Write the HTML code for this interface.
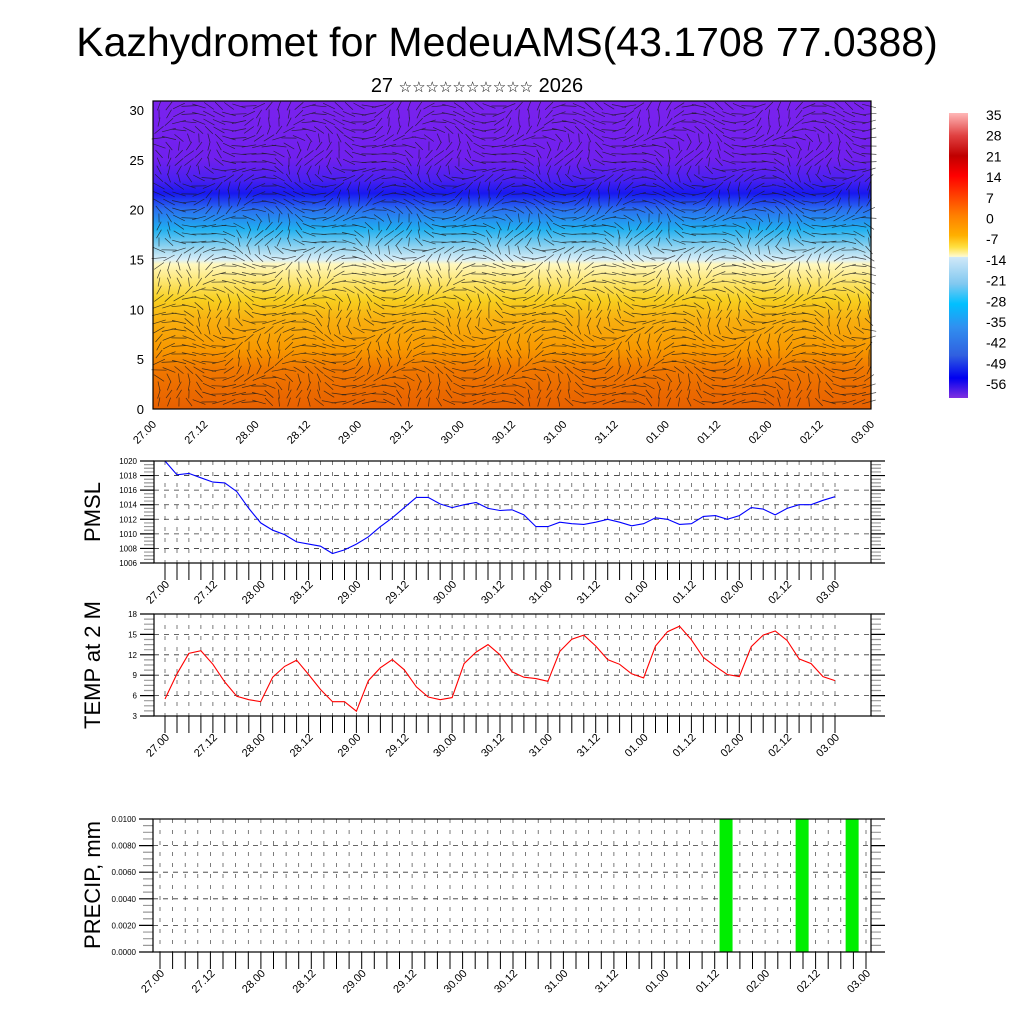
<!DOCTYPE html>
<html><head><meta charset="utf-8"><style>
html,body{margin:0;padding:0;background:#fff;}
svg{display:block;font-family:"Liberation Sans","DejaVu Sans",sans-serif;}
</style></head><body>
<svg id="s" width="1024" height="1024" viewBox="0 0 1024 1024" xmlns="http://www.w3.org/2000/svg">
<defs>
<linearGradient id="field" x1="0" y1="0" x2="0" y2="1">
<stop offset="0" stop-color="#7a22ee"/><stop offset="0.19" stop-color="#7020ee"/>
<stop offset="0.255" stop-color="#4a20f0"/><stop offset="0.30" stop-color="#1818f0"/>
<stop offset="0.353" stop-color="#2a70f0"/><stop offset="0.417" stop-color="#20b0f0"/>
<stop offset="0.482" stop-color="#a0d8f0"/><stop offset="0.515" stop-color="#d8eef8"/>
<stop offset="0.53" stop-color="#fff8c0"/><stop offset="0.58" stop-color="#fde878"/>
<stop offset="0.644" stop-color="#f8d020"/><stop offset="0.709" stop-color="#f8b010"/>
<stop offset="0.806" stop-color="#f89800"/><stop offset="0.87" stop-color="#f07800"/>
<stop offset="1" stop-color="#e86000"/>
</linearGradient>
<linearGradient id="cbar" x1="0" y1="0" x2="0" y2="1">
<stop offset="0" stop-color="#ffb8b8"/><stop offset="0.08" stop-color="#e04040"/>
<stop offset="0.15" stop-color="#c00000"/><stop offset="0.22" stop-color="#ff0000"/>
<stop offset="0.29" stop-color="#ff4000"/><stop offset="0.36" stop-color="#ff8000"/>
<stop offset="0.43" stop-color="#ffb000"/><stop offset="0.47" stop-color="#ffe040"/>
<stop offset="0.504" stop-color="#fffad0"/><stop offset="0.506" stop-color="#d0e8f8"/>
<stop offset="0.6" stop-color="#80c8f0"/><stop offset="0.67" stop-color="#00c0ff"/>
<stop offset="0.75" stop-color="#3090f0"/><stop offset="0.85" stop-color="#3060e0"/>
<stop offset="0.93" stop-color="#0000f0"/><stop offset="1" stop-color="#8030e0"/>
</linearGradient>
</defs>
<text x="507" y="56" font-size="41" text-anchor="middle">Kazhydromet for MedeuAMS(43.1708 77.0388)</text>
<text x="477" y="92" font-size="20" text-anchor="middle">27 <tspan font-size="15">☆☆☆☆☆☆☆☆☆☆</tspan> 2026</text>
<g id="top"></g>
<g id="cb"></g>
<g id="p1"></g>
<g id="p2"></g>
<g id="p3"></g>
</svg>
<script>
const timeLabels = ["27.00","27.12","28.00","28.12","29.00","29.12","30.00","30.12","31.00","31.12","01.00","01.12","02.00","02.12","03.00"];
const pmslValues = [1020,1018.1,1018.3,1017.7,1017.1,1017.0,1015.8,1013.5,1011.5,1010.5,1009.9,1008.9,1008.6,1008.3,1007.3,1007.8,1008.6,1009.6,1011.0,1012.2,1013.6,1015.0,1015.0,1014.1,1013.6,1014.0,1014.3,1013.5,1013.2,1013.3,1012.6,1011.0,1011.0,1011.6,1011.4,1011.3,1011.6,1012.0,1011.6,1011.1,1011.4,1012.2,1012.0,1011.3,1011.4,1012.4,1012.5,1012.0,1012.5,1013.6,1013.4,1012.6,1013.5,1014.0,1014.0,1014.6,1015.1];
const pmslTicks = [1006,1008,1010,1012,1014,1016,1018,1020];
const tempValues = [5.5,9.2,12.2,12.6,10.6,8.0,5.9,5.4,5.1,8.7,10.3,11.2,9.1,6.9,5.1,5.1,3.7,8.2,10.1,11.3,9.8,7.3,5.8,5.4,5.7,10.7,12.4,13.5,12.0,9.5,8.7,8.5,8.1,12.5,14.3,14.9,13.3,11.3,10.6,9.2,8.6,13.3,15.4,16.2,14.2,11.6,10.3,9.1,8.8,13.2,14.9,15.5,14.1,11.4,10.7,8.8,8.2];
const tempTicks = [3,6,9,12,15,18];
const precipBarTimes = [134.7, 152.8, 164.7];
const precipBarValues = [0.01, 0.01, 0.01];
const precipTicks = ["0.0000","0.0020","0.0040","0.0060","0.0080","0.0100"];
const heightTicks = [0,5,10,15,20,25,30];
const cbLabels = ["35","28","21","14","7","0","-7","-14","-21","-28","-35","-42","-49","-56"];

const NS="http://www.w3.org/2000/svg";
const NL=timeLabels.length-1;
function mk(p,tag,at,txt){const e=document.createElementNS(NS,tag);for(const k in at)e.setAttribute(k,at[k]);if(txt!==undefined)e.textContent=txt;p.appendChild(e);return e;}

const T=document.getElementById('top');
const tL=153,tR=871,tT=101,tB=409;
const hy=v=>tB-(v/30.9)*(tB-tT);
let r=mk(T,'rect',{x:tL,y:tT,width:tR-tL,height:tB-tT,fill:'url(#field)'});


const bg=mk(T,'g',{stroke:'#1a1a1a','stroke-width':'0.7','stroke-opacity':'0.8',fill:'none'});


let d='';
for(let x=tL+6;x<tR;x+=10){for(let y=tT+5;y<tB;y+=8){
 const a=Math.sin(x*0.05+y*0.03)*1.2+Math.cos(y*0.08)*0.8+(y<250?0.3:0);
 const L=15;const dx=Math.cos(a)*L,dy=Math.sin(a)*L*0.6;
 d+=`M${(x-dx/2).toFixed(1)} ${(y-dy/2).toFixed(1)}l${dx.toFixed(1)} ${dy.toFixed(1)}`;
}}
mk(bg,'path',{d:d});
mk(T,'rect',{x:tL,y:tT,width:tR-tL,height:tB-tT,fill:'none',stroke:'#000','stroke-width':'1.2'});
heightTicks.forEach(v=>{const t=mk(T,'text',{x:144,y:hy(v)+5,'font-size':13,'text-anchor':'end'},v);
 });
timeLabels.forEach((s,i)=>{const x=tL+i*(tR-tL)/NL;
 const t=mk(T,'text',{x:x+4,y:tB+16,'font-size':11,'text-anchor':'end',transform:`rotate(-45 ${x+4} ${tB+16})`},s);
 });

const C=document.getElementById('cb');
mk(C,'rect',{x:949,y:113,width:19,height:285,fill:'url(#cbar)'});
cbLabels.forEach((s,i)=>{const t=mk(C,'text',{x:986,y:120+i*20.7,'font-size':14},s);
 });

function panel(g,cfg){
 const {L,R,T0,B,ymin,ymax,yt,ylab,title,titleY,x0,x1,n}=cfg;
 const ys=v=>B-(v-ymin)/(ymax-ymin)*(B-T0);
 const xs=i=>x0+i*(x1-x0)/(n-1);
 let dv='';for(let i=0;i<n;i++){const x=xs(i);if(x>L+2&&x<R-2)dv+=`M${x.toFixed(1)} ${T0}V${B}`;}
 mk(g,'path',{d:dv,stroke:'#444','stroke-width':'0.7','stroke-dasharray':'4,7',fill:'none'});
 let dh='';yt.forEach(v=>{const y=ys(v);if(y>T0+1&&y<B-1)dh+=`M${L} ${y}H${R}`;});
 mk(g,'path',{d:dh,stroke:'#333','stroke-width':'0.8','stroke-dasharray':'5,5',fill:'none'});
 let dm='',dn='';
 yt.forEach((v,k)=>{const y=ys(v);dm+=`M${L-14} ${y}H${L}M${R} ${y}H${R+14}`;
  if(k<yt.length-1){const y2=ys(yt[k+1]);for(let j=1;j<4;j++){const yy=y+(y2-y)*j/4;dn+=`M${L-10} ${yy}H${L}M${R} ${yy}H${R+10}`;}}
  const t=mk(g,'text',{x:L-17,y:y+3,'font-size':cfg.yfs||8,'text-anchor':'end'},ylab?ylab[k]:v);
  });
 mk(g,'path',{d:dn,stroke:'#999','stroke-width':'1.2'});
 mk(g,'path',{d:dm,stroke:'#000','stroke-width':'1.2'});
 let dx='';for(let i=0;i<n;i++){dx+=`M${xs(i).toFixed(1)} ${B}v17`;}
 mk(g,'path',{d:dx,stroke:'#000','stroke-width':'1'});
 timeLabels.forEach((s,i)=>{const x=x0+i*(x1-x0)/NL;
  const t=mk(g,'text',{x:x+5,y:B+22,'font-size':11,'text-anchor':'end',transform:`rotate(-45 ${x+5} ${B+22})`},s);
  });
 const tt=mk(g,'text',{x:100,y:titleY,'font-size':22,'text-anchor':'middle',transform:`rotate(-90 100 ${titleY})`},title);
 
 return {ys,xs};
}
function frame(g,L,R,T0,B){mk(g,'rect',{x:L,y:T0,width:R-L,height:B-T0,fill:'none',stroke:'#000','stroke-width':'1.2'});}

const P1=document.getElementById('p1');
const a1=panel(P1,{L:154,R:871,T0:461,B:563,ymin:1006,ymax:1020,yt:pmslTicks,title:'PMSL',titleY:512,x0:165,x1:835,n:pmslValues.length});
let pl=mk(P1,'polyline',{points:pmslValues.map((v,i)=>a1.xs(i).toFixed(1)+','+a1.ys(v).toFixed(1)).join(' '),fill:'none',stroke:'#0000ff','stroke-width':'1.1'});

frame(P1,154,871,461,563);

const P2=document.getElementById('p2');
const a2=panel(P2,{L:154,R:871,T0:614,B:716,ymin:3,ymax:18,yt:tempTicks,title:'TEMP at 2 M',titleY:665,x0:165,x1:835,n:tempValues.length});
pl=mk(P2,'polyline',{points:tempValues.map((v,i)=>a2.xs(i).toFixed(1)+','+a2.ys(v).toFixed(1)).join(' '),fill:'none',stroke:'#ff0000','stroke-width':'1.1'});

frame(P2,154,871,614,716);

const P3=document.getElementById('p3');
const pt=[0,0.002,0.004,0.006,0.008,0.01];
const a3=panel(P3,{L:153,R:871,T0:819,B:952,ymin:0,ymax:0.01,yt:pt,ylab:precipTicks,title:'PRECIP, mm',titleY:885,x0:160,x1:866,n:57});
const px=t=>160+t/168*(866-160);
precipBarTimes.forEach((t,i)=>{const x=px(t);const b=mk(P3,'rect',{x:x-6.5,y:a3.ys(precipBarValues[i]),width:13,height:952-a3.ys(precipBarValues[i]),fill:'#00ee00'});
 });
frame(P3,153,871,819,952);
</script>
</body></html>
